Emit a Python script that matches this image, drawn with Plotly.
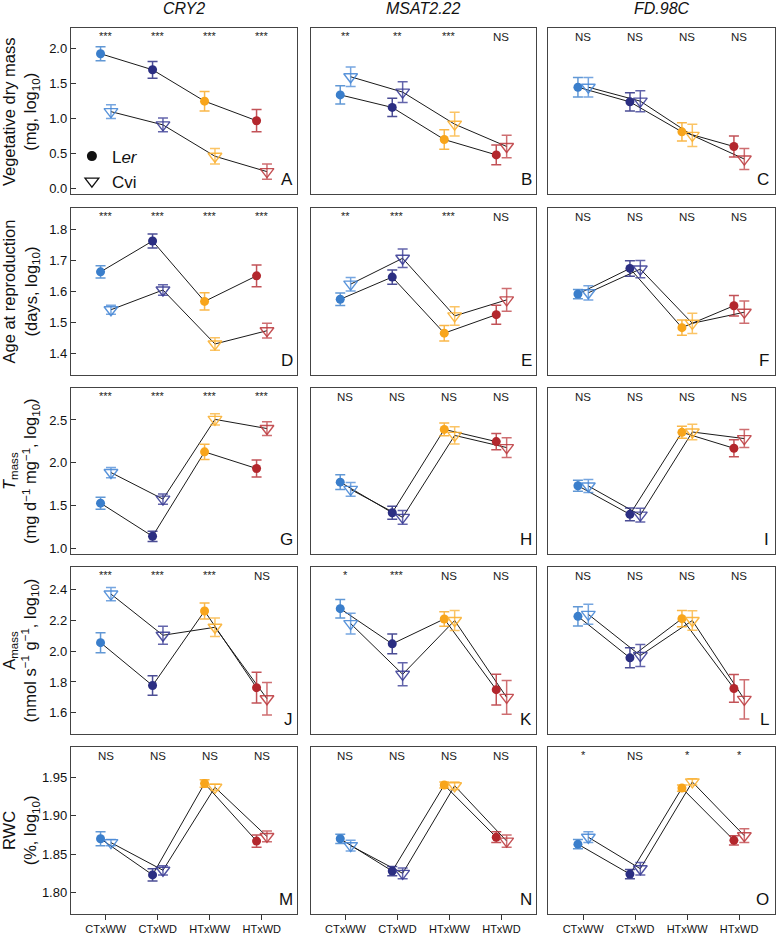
import plotly.graph_objects as go

# ---------------- data ----------------
categories = ["CTxWW", "CTxWD", "HTxWW", "HTxWD"]
genes = ["CRY2", "MSAT2.22", "FD.98C"]
panel_letters = ["A", "B", "C", "D", "E", "F", "G", "H", "I", "J", "K", "L", "M", "N", "O"]

# Row 1: vegetative dry mass (mg, log10)
veg_ler = [[1.93, 1.70, 1.25, 0.97], [1.34, 1.16, 0.70, 0.48], [1.45, 1.24, 0.81, 0.60]]
veg_ler_se = [[0.10, 0.12, 0.14, 0.16], [0.13, 0.13, 0.14, 0.14], [0.14, 0.13, 0.13, 0.15]]
veg_cvi = [[1.10, 0.91, 0.46, 0.24], [1.60, 1.38, 0.92, 0.60], [1.45, 1.25, 0.76, 0.42]]
veg_cvi_se = [[0.10, 0.10, 0.11, 0.11], [0.14, 0.15, 0.17, 0.16], [0.14, 0.15, 0.16, 0.15]]

# Row 2: age at reproduction (days, log10)
age_ler = [[1.664, 1.764, 1.568, 1.651], [1.575, 1.647, 1.465, 1.525], [1.592, 1.675, 1.483, 1.554]]
age_ler_se = [[0.020, 0.023, 0.028, 0.035], [0.020, 0.023, 0.025, 0.031], [0.015, 0.025, 0.025, 0.033]]
age_cvi = [[1.541, 1.605, 1.430, 1.473], [1.624, 1.708, 1.521, 1.573], [1.596, 1.673, 1.497, 1.533]]
age_cvi_se = [[0.015, 0.017, 0.020, 0.024], [0.022, 0.030, 0.030, 0.037], [0.023, 0.028, 0.033, 0.036]]

# Row 3: Tmass
tm_ler = [[1.53, 1.143, 2.128, 1.934], [1.775, 1.418, 2.39, 2.248], [1.733, 1.399, 2.356, 2.17]]
tm_ler_se = [[0.07, 0.06, 0.09, 0.10], [0.085, 0.075, 0.075, 0.095], [0.065, 0.075, 0.07, 0.10]]
tm_cvi = [[1.887, 1.577, 2.507, 2.40], [1.69, 1.364, 2.32, 2.178], [1.73, 1.39, 2.36, 2.283]]
tm_cvi_se = [[0.06, 0.06, 0.065, 0.08], [0.08, 0.08, 0.10, 0.115], [0.075, 0.08, 0.09, 0.105]]

# Row 4: Amass
am_ler = [[2.056, 1.777, 2.262, 1.763], [2.277, 2.048, 2.21, 1.75], [2.227, 1.957, 2.212, 1.758]]
am_ler_se = [[0.065, 0.064, 0.052, 0.10], [0.06, 0.064, 0.047, 0.10], [0.063, 0.065, 0.053, 0.09]]
am_cvi = [[2.372, 2.104, 2.156, 1.691], [2.18, 1.85, 2.20, 1.70], [2.24, 1.972, 2.20, 1.687]]
am_cvi_se = [[0.043, 0.058, 0.06, 0.105], [0.068, 0.075, 0.065, 0.11], [0.065, 0.072, 0.064, 0.127]]

# Row 5: RWC (%, log10)
rwc_ler = [[1.870, 1.823, 1.942, 1.867], [1.870, 1.828, 1.940, 1.872], [1.863, 1.824, 1.936, 1.868]]
rwc_ler_se = [[0.009, 0.008, 0.005, 0.008], [0.006, 0.006, 0.004, 0.007], [0.006, 0.006, 0.004, 0.006]]
rwc_cvi = [[1.865, 1.829, 1.937, 1.873], [1.861, 1.825, 1.939, 1.867], [1.872, 1.831, 1.944, 1.874]]
rwc_cvi_se = [[0.004, 0.006, 0.004, 0.007], [0.007, 0.007, 0.005, 0.008], [0.007, 0.008, 0.004, 0.009]]

# significance labels
sig_veg = [["***", "***", "***", "***"], ["**", "**", "***", "NS"], ["NS", "NS", "NS", "NS"]]
sig_age = [["***", "***", "***", "***"], ["**", "***", "***", "NS"], ["NS", "NS", "NS", "NS"]]
sig_tm = [["***", "***", "***", "***"], ["NS", "NS", "NS", "NS"], ["NS", "NS", "NS", "NS"]]
sig_am = [["***", "***", "***", "NS"], ["*", "***", "NS", "NS"], ["NS", "NS", "NS", "NS"]]
sig_rwc = [["NS", "NS", "NS", "NS"], ["NS", "NS", "NS", "NS"], ["*", "NS", "*", "*"]]

row_titles = [
    "Vegetative dry mass<br>(mg, log<sub>10</sub>)",
    "Age at reproduction<br>(days, log<sub>10</sub>)",
    "<i>T</i><sub>mass</sub><br>(mg d<sup>\u22121</sup> mg<sup>\u22121</sup>, log<sub>10</sub>)",
    "A<sub>mass</sub><br>(nmol s<sup>\u22121</sup> g<sup>\u22121</sup>, log<sub>10</sub>)",
    "RWC<br>(%, log<sub>10</sub>)",
]
row_ticks = [
    [0.0, 0.5, 1.0, 1.5, 2.0],
    [1.4, 1.5, 1.6, 1.7, 1.8],
    [1.0, 1.5, 2.0, 2.5],
    [1.6, 1.8, 2.0, 2.2, 2.4],
    [1.80, 1.85, 1.90, 1.95],
]
row_tickfmt = [".1f", ".1f", ".1f", ".1f", ".2f"]
row_ranges = [(-0.086, 2.30), (1.330, 1.870), (0.934, 2.876), (1.464, 2.547), (1.772, 1.990)]

rows_data = [
    (veg_ler, veg_ler_se, veg_cvi, veg_cvi_se, sig_veg),
    (age_ler, age_ler_se, age_cvi, age_cvi_se, sig_age),
    (tm_ler, tm_ler_se, tm_cvi, tm_cvi_se, sig_tm),
    (am_ler, am_ler_se, am_cvi, am_cvi_se, sig_am),
    (rwc_ler, rwc_ler_se, rwc_cvi, rwc_cvi_se, sig_rwc),
]

# ---------------- styles ----------------
ler_colors = ["#3a7ecb", "#2b2e82", "#f8a51b", "#b3272d"]
cvi_colors = ["rgba(72,136,214,0.9)", "rgba(60,62,150,0.9)", "rgba(249,176,50,0.9)", "rgba(190,62,66,0.9)"]
ler_err_colors = ["rgba(58,126,203,0.8)", "rgba(43,46,130,0.85)", "rgba(248,165,27,0.8)", "rgba(179,39,45,0.8)"]
cvi_err_colors = ["rgba(72,136,214,0.75)", "rgba(60,62,150,0.8)", "rgba(249,176,50,0.75)", "rgba(190,62,66,0.75)"]

W, H = 776, 935
FONT = "Liberation Sans, Arial, sans-serif"
col_px = [(71, 297), (311, 537), (549, 776)]
row_px = [(28, 195), (209, 376), (389, 556), (569, 736), (749, 917)]
offset = 0.1
xpos = [1, 2, 3, 4]

fig = go.Figure()
layout = dict(
    width=W, height=H, margin=dict(l=0, r=0, t=0, b=0),
    paper_bgcolor="white", plot_bgcolor="white",
    font=dict(family=FONT, color="#111"),
    showlegend=True,
)
annotations = []

for r in range(5):
    ler, ler_se, cvi, cvi_se, sig = rows_data[r]
    for c in range(3):
        k = r * 3 + c + 1
        xa = "xaxis" if k == 1 else f"xaxis{k}"
        ya = "yaxis" if k == 1 else f"yaxis{k}"
        xr = "x" if k == 1 else f"x{k}"
        yr = "y" if k == 1 else f"y{k}"
        x0, x1 = col_px[c]
        t0, t1 = row_px[r]
        bottom = r == 4
        xrange = [0.33, 4.67] if c < 2 else [0.33, 4.69]
        layout[xa] = dict(
            domain=[x0 / W, x1 / W], anchor=yr, range=xrange,
            tickvals=xpos, ticktext=categories,
            showticklabels=bottom, ticks="outside" if bottom else "", ticklen=5,
            tickcolor="#333", tickfont=dict(size=11, family=FONT, color="#111"),
            showgrid=False, zeroline=False, showline=True, mirror=True,
            linecolor="#444", linewidth=1.2,
        )
        layout[ya] = dict(
            domain=[1 - t1 / H, 1 - t0 / H], anchor=xr, range=list(row_ranges[r]),
            tickvals=row_ticks[r], tickformat=row_tickfmt[r],
            showticklabels=(c == 0), ticks="inside" if c == 0 else "", ticklen=5,
            tickcolor="#333", tickfont=dict(size=13, family=FONT, color="#111"),
            showgrid=False, zeroline=False, showline=True, mirror=True,
            linecolor="#444", linewidth=1.2,
        )
        # connecting lines
        fig.add_trace(go.Scatter(
            x=[p - offset for p in xpos], y=ler[c], mode="lines",
            line=dict(color="#1a1a1a", width=1), xaxis=xr, yaxis=yr,
            showlegend=False, hoverinfo="skip"))
        fig.add_trace(go.Scatter(
            x=[p + offset for p in xpos], y=cvi[c], mode="lines",
            line=dict(color="#1a1a1a", width=1), xaxis=xr, yaxis=yr,
            showlegend=False, hoverinfo="skip"))
        # points with error bars
        for i in range(4):
            fig.add_trace(go.Scatter(
                x=[xpos[i] - offset], y=[ler[c][i]], mode="markers",
                marker=dict(symbol="circle", size=9, color=ler_colors[i], line=dict(width=0)),
                error_y=dict(type="data", array=[ler_se[c][i]], color=ler_err_colors[i],
                             thickness=1.5, width=5),
                xaxis=xr, yaxis=yr, showlegend=False))
            fig.add_trace(go.Scatter(
                x=[xpos[i] + offset], y=[cvi[c][i]], mode="markers",
                marker=dict(symbol="triangle-down-open", size=12, color=cvi_colors[i],
                            line=dict(width=1.4, color=cvi_colors[i])),
                error_y=dict(type="data", array=[cvi_se[c][i]], color=cvi_err_colors[i],
                             thickness=1.5, width=5),
                xaxis=xr, yaxis=yr, showlegend=False))
        # significance labels
        for i in range(4):
            s = sig[c][i]
            annotations.append(dict(
                x=xpos[i], xref=xr, y=1, yref=f"{yr} domain", yanchor="top",
                yshift=-1 if s == "NS" else 0, text=s, showarrow=False,
                font=dict(size=11.5 if s == "NS" else 11, family=FONT, color="#222")))
        # panel letter
        annotations.append(dict(
            x=1, xref=f"{xr} domain", xanchor="right", xshift=-2 if c < 2 else -4,
            y=0, yref=f"{yr} domain", yanchor="bottom", yshift=3,
            text=panel_letters[k - 1], showarrow=False,
            font=dict(size=17, family=FONT, color="#111")))
    # row title
    annotations.append(dict(
        x=21 / W, xref="paper", xanchor="center",
        y=1 - (row_px[r][0] + row_px[r][1]) / 2 / H, yref="paper", yanchor="middle",
        text=row_titles[r], textangle=-90, showarrow=False,
        font=dict(size=16.5, family=FONT, color="#111")))

# column titles
for c in range(3):
    annotations.append(dict(
        x=(col_px[c][0] + col_px[c][1]) / 2 / W, xref="paper", xanchor="center",
        y=1 - 9 / H, yref="paper", yanchor="middle",
        text=f"<i>{genes[c]}</i>", showarrow=False,
        font=dict(size=16, family=FONT, color="#111")))

# legend entries
fig.add_trace(go.Scatter(x=[None], y=[None], mode="markers", name="L<i>er</i>",
                         marker=dict(symbol="circle", size=10, color="#111"),
                         xaxis="x", yaxis="y"))
fig.add_trace(go.Scatter(x=[None], y=[None], mode="markers", name="Cvi",
                         marker=dict(symbol="triangle-down-open", size=12, color="#111",
                                     line=dict(width=1.3, color="#111")),
                         xaxis="x", yaxis="y"))
layout["legend"] = dict(
    x=72 / W, xanchor="left", y=1 - 139 / H, yanchor="top",
    bgcolor="rgba(0,0,0,0)", borderwidth=0,
    font=dict(size=17, family=FONT, color="#111"),
    tracegroupgap=0, itemwidth=30,
)
layout["annotations"] = annotations
fig.update_layout(**layout)
fig.write_html(
    "out.html",
    config={"displayModeBar": False},
    post_script="document.body.style.margin='0';document.body.style.overflow='hidden';",
)
